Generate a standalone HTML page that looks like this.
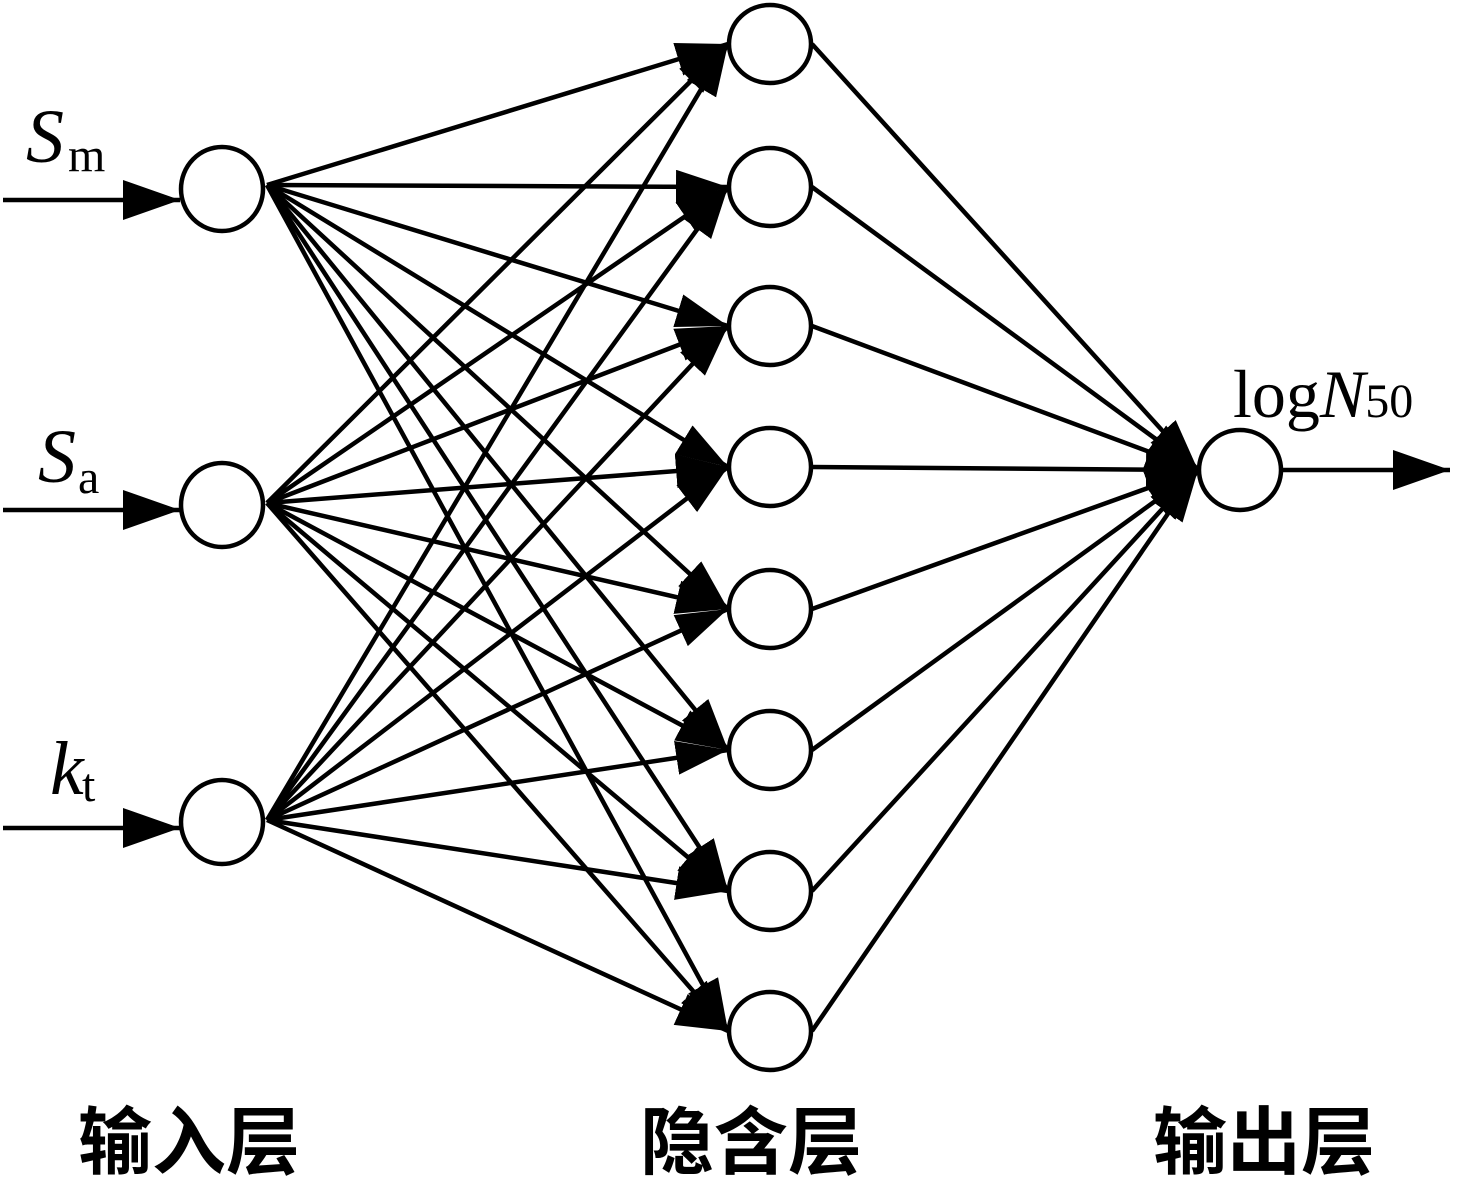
<!DOCTYPE html>
<html><head><meta charset="utf-8"><style>
body{margin:0;background:#fff;}
svg{display:block}
.t{font-family:"Liberation Serif",serif;}
.c{font-family:"Liberation Sans","Noto Sans CJK SC",sans-serif;font-weight:bold;}
</style></head><body>
<svg width="1462" height="1199" viewBox="0 0 1462 1199" xmlns="http://www.w3.org/2000/svg">
<defs>
<marker id="a" markerUnits="userSpaceOnUse" markerWidth="60" markerHeight="40" refX="52" refY="17" orient="auto">
<path d="M0,0 L52,17 L0,34 Z" fill="#000"/>
</marker>
<marker id="b" markerUnits="userSpaceOnUse" markerWidth="60" markerHeight="40" refX="57" refY="20" orient="auto">
<path d="M0,0 L57,20 L0,40 Z" fill="#000"/>
</marker>
</defs>
<g stroke="#000" stroke-width="4.5" fill="none" marker-end="url(#a)">
<path d="M267,185 L728,44"/><path d="M267,185 L728,187"/><path d="M267,185 L728,326"/><path d="M267,185 L728,467"/>
<path d="M267,185 L728,609"/><path d="M267,185 L728,750"/><path d="M267,185 L728,891"/><path d="M267,185 L728,1031"/>
<path d="M267,503 L728,44"/><path d="M267,503 L728,187"/><path d="M267,503 L728,326"/><path d="M267,503 L728,467"/>
<path d="M267,503 L728,609"/><path d="M267,503 L728,750"/><path d="M267,503 L728,891"/><path d="M267,503 L728,1031"/>
<path d="M267,820 L728,44"/><path d="M267,820 L728,187"/><path d="M267,820 L728,326"/><path d="M267,820 L728,467"/>
<path d="M267,820 L728,609"/><path d="M267,820 L728,750"/><path d="M267,820 L728,891"/><path d="M267,820 L728,1031"/>
<path d="M812,44 L1198,470"/><path d="M812,187 L1198,470"/><path d="M812,326 L1198,470"/><path d="M812,467 L1198,470"/>
<path d="M812,609 L1198,470"/><path d="M812,750 L1198,470"/><path d="M812,891 L1198,470"/><path d="M812,1031 L1198,470"/>
</g>
<g stroke="#000" stroke-width="4.5" fill="none" marker-end="url(#b)">
<path d="M3,200 L180,200"/><path d="M3,510 L180,510"/><path d="M3,828 L180,828"/><path d="M1282,470 L1450,470"/>
</g>
<g stroke="#000" stroke-width="4.5" fill="#fff">
<ellipse cx="222" cy="189" rx="41" ry="42"/>
<ellipse cx="222" cy="505" rx="41" ry="42"/>
<ellipse cx="222" cy="822" rx="41" ry="42"/>
<ellipse cx="770" cy="44" rx="41" ry="39"/>
<ellipse cx="770" cy="187" rx="41" ry="39"/>
<ellipse cx="770" cy="326" rx="41" ry="39"/>
<ellipse cx="770" cy="467" rx="41" ry="39"/>
<ellipse cx="770" cy="609" rx="41" ry="39"/>
<ellipse cx="770" cy="750" rx="41" ry="39"/>
<ellipse cx="770" cy="891" rx="41" ry="39"/>
<ellipse cx="770" cy="1031" rx="41" ry="39"/>
<ellipse cx="1240" cy="470" rx="41" ry="40"/>
</g>
<text class="t" x="26" y="162" font-size="76" font-style="italic">S</text><text class="t" x="68" y="171" font-size="48">m</text>
<text class="t" x="38" y="482" font-size="76" font-style="italic">S</text><text class="t" x="78" y="493" font-size="48">a</text>
<text class="t" x="50" y="794" font-size="76" font-style="italic">k</text><text class="t" x="82" y="801" font-size="48">t</text>
<text class="t" x="1233" y="417" font-size="68">log<tspan font-style="italic">N</tspan><tspan font-size="48">50</tspan></text>
<text class="c" x="78" y="1168" font-size="74">输入层</text>
<text class="c" x="640" y="1168" font-size="74">隐含层</text>
<text class="c" x="1153" y="1168" font-size="74">输出层</text>
</svg>
</body></html>
